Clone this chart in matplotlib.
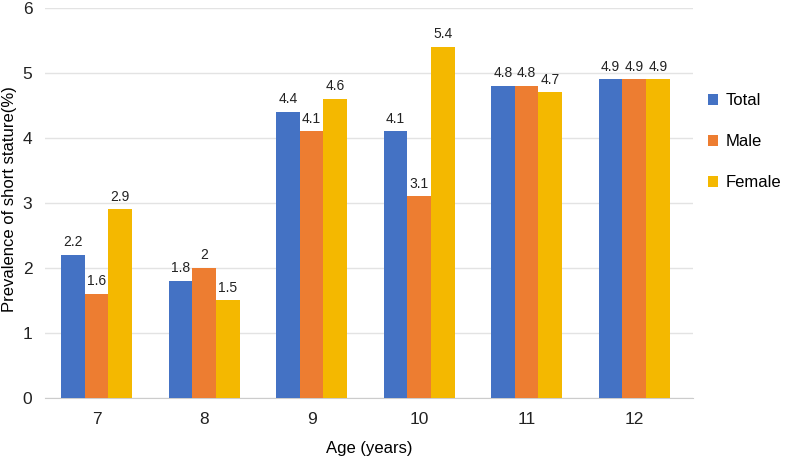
import numpy as np
import matplotlib.pyplot as plt

ages = ["7", "8", "9", "10", "11", "12"]
total = [2.2, 1.8, 4.4, 4.1, 4.8, 4.9]
male = [1.6, 2.0, 4.1, 3.1, 4.8, 4.9]
female = [2.9, 1.5, 4.6, 5.4, 4.7, 4.9]
series = [("Total", total, "#4472C4"), ("Male", male, "#ED7D31"), ("Female", female, "#F4B800")]

plt.rcParams['font.family'] = ['Liberation Sans', 'DejaVu Sans']

fig = plt.figure(figsize=(7.87, 4.57), dpi=100)
ax = fig.add_axes([0.057, 0.129, 0.824, 0.854])

x = np.arange(len(ages))
w = 0.22
for i, (name, vals, color) in enumerate(series):
    bars = ax.bar(x + (i - 1) * w, vals, w, color=color, label=name, zorder=3)
    ax.bar_label(bars, labels=[f"{v:g}" for v in vals], padding=4, fontsize=10, color="#222222")

ax.set_xlim(-0.48, 5.55)
ax.set_ylim(0, 6)
ax.set_yticks(range(7))
ax.set_xticks(x)
ax.set_xticklabels(ages)
ax.grid(axis="y", color="#e3e3e3", linewidth=1, zorder=0)
for s in ["top", "right", "left"]:
    ax.spines[s].set_visible(False)
ax.spines["bottom"].set_color("#cccccc")
ax.tick_params(axis="both", length=0, labelsize=12.5, colors="#222222")
ax.tick_params(axis="x", pad=10)
ax.tick_params(axis="y", pad=9)

ax.set_xlabel("Age (years)", fontsize=12, va="center")
ax.xaxis.set_label_coords(0.5, -0.128)
ax.set_ylabel("Prevalence of short stature(%)", fontsize=12, va="center")
ax.yaxis.set_label_coords(-0.054, 0.51)

ax.legend(loc="center left", bbox_to_anchor=(1.004, 0.657), frameon=False, fontsize=12,
          handlelength=0.62, handleheight=0.62, handletextpad=0.45, labelspacing=1.55,
          borderpad=0.2)

fig.savefig("out.png", dpi=100)
